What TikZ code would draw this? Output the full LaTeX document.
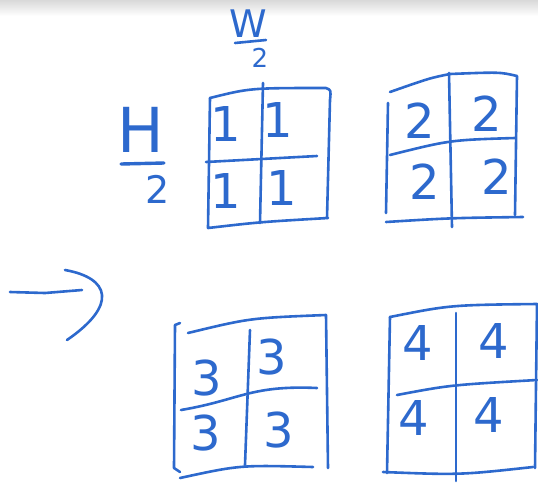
\documentclass[tikz,border=0pt]{standalone}
\usepackage{fontspec}
\setmainfont{DejaVu Sans}
\usepackage{xcolor}
\usepackage{tikz}
\definecolor{ink}{RGB}{45,105,205}

\begin{document}
\begin{tikzpicture}[x=1pt, y=-1pt, line cap=round, line join=round,
		pen/.style={draw=ink, line width=2.6pt},
		digit/.style={text=ink, font=\fontsize{48}{48}\selectfont},
		letter/.style={text=ink, font=\fontsize{30}{30}\selectfont}]
			
			\useasboundingbox (0,0) rectangle (538,483);
			\shade[top color=black!15, bottom color=white] (0,0) rectangle (538,16);
			
			% W/2 and H/2
			\node[letter, font=\fontsize{38}{38}\selectfont] (wtop) at (248,24) {W};
			\draw[pen] (235,43) -- (266,40);
			\node[letter, font=\fontsize{26}{26}\selectfont] (wbot) at (260,58) {2};
			\node[letter, font=\fontsize{62}{62}\selectfont] (htop) at (141,130) {H};
			\draw[pen, line width=3.4pt] (121,164) -- (164,163);
			\node[letter, font=\fontsize{38}{38}\selectfont] (hbot) at (158,189) {2};
			
			% Block 1
			\draw[pen] (210,98) .. controls (250,88) .. (326,88) .. controls (331,90) .. (330,100) -- (327,218);
			\draw[pen] (210,98) -- (208,228) .. controls (260,222) .. (328,218);
			\draw[pen] (263,83) -- (260,223);
			\draw[pen] (206,162) -- (317,156);
			\node[digit] (a1) at (226,124) {1};
			\node[digit] (a2) at (278,120) {1};
			\node[digit] (a3) at (226,191) {1};
			\node[digit] (a4) at (282,188) {1};
			
			% Block 2
			\draw[pen] (390,92) .. controls (430,78) .. (450,74) .. controls (500,72) .. (517,76) -- (515,215);
			\draw[pen] (388,103) -- (386,213);
			\draw[pen] (386,222) .. controls (450,218) .. (523,217);
			\draw[pen] (449,73) -- (452,227);
			\draw[pen] (390,155) .. controls (450,140) .. (515,138);
			\node[digit] (b1) at (420,121) {2};
			\node[digit] (b2) at (487,114) {2};
			\node[digit] (b3) at (425,182) {2};
			\node[digit] (b4) at (497,177) {2};
			
			% Block 3
			\draw[pen] (180,323) -- (175,325) -- (174,468) -- (180,472);
			\draw[pen] (188,333) .. controls (250,318) .. (326,315) -- (328,468);
			\draw[pen] (180,478) .. controls (240,465) .. (313,467);
			\draw[pen] (250,330) -- (245,465);
			\draw[pen] (181,410) .. controls (240,400) and (250,385) .. (317,388);
			\node[digit] (c1) at (207,378) {3};
			\node[digit] (c2) at (272,357) {3};
			\node[digit] (c3) at (206,433) {3};
			\node[digit] (c4) at (279,430) {3};
			
			% Block 4
			\draw[pen] (390,317) .. controls (450,305) .. (537,304) -- (535,468);
			\draw[pen] (390,317) -- (387,473);
			\draw[pen] (383,472) .. controls (460,475) .. (533,467);
			\draw[pen] (456,313) -- (456,481);
			\draw[pen] (397,395) .. controls (450,385) .. (537,380);
			\node[digit] (d1) at (418,343) {4};
			\node[digit] (d2) at (494,341) {4};
			\node[digit] (d3) at (414,418) {4};
			\node[digit] (d4) at (489,415) {4};
			
			% arrow
			\draw[pen] (10,292) -- (45,293) -- (82,290);
			\draw[pen] (65,270) .. controls (110,278) and (118,305) .. (67,340);
			
		\end{tikzpicture}
\end{document}
